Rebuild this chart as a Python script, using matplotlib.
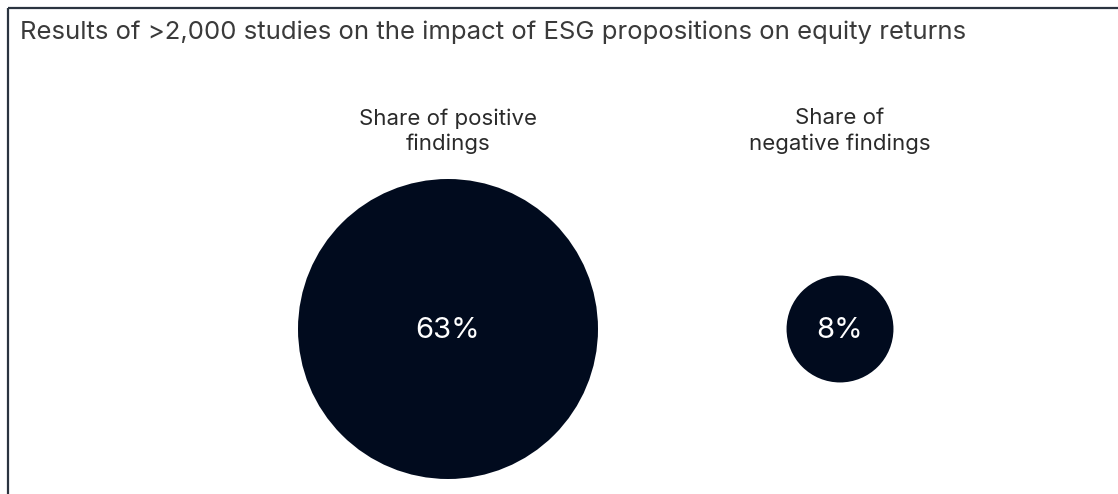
import matplotlib
matplotlib.use("Agg")
import matplotlib.pyplot as plt
from matplotlib.patches import Circle
import numpy as np

# Data
categories = ["Share of positive\nfindings", "Share of\nnegative findings"]
values = [63, 8]
value_labels = ["63%", "8%"]
title = "Results of >2,000 studies on the impact of ESG propositions on equity returns"

# Layout (pixels)
W, H = 1118, 494
centers_x = [448, 840]
center_y = 329
scale = 150 / np.sqrt(63)  # radius per sqrt(value)
circle_color = "#010B1E"
font = ["Inter", "DejaVu Sans"]

fig = plt.figure(figsize=(W / 100, H / 100), dpi=100)
ax = fig.add_axes([0, 0, 1, 1])
ax.set_xlim(0, W)
ax.set_ylim(H, 0)
ax.axis("off")

# border (top and left)
ax.plot([8, 8], [H, 8], color="#2b3440", lw=1.6, solid_capstyle="butt")
ax.plot([8, W], [8, 8], color="#2b3440", lw=1.6, solid_capstyle="butt")

ax.text(20, 32, title, fontsize=18.5, color="#3a3a3a", family=font,
        ha="left", va="center")

for cx, cat, v, lab in zip(centers_x, categories, values, value_labels):
    r = scale * np.sqrt(v)
    ax.add_patch(Circle((cx, center_y), r, color=circle_color, lw=0))
    ax.text(cx, center_y + 1.5, lab, fontsize=21, color="white", family=font,
            ha="center", va="center")
    ax.text(cx, 131, cat, fontsize=16, color="#2a2a2a", family=font,
            ha="center", va="center", linespacing=1.3)

fig.savefig("out.png", dpi=100)
